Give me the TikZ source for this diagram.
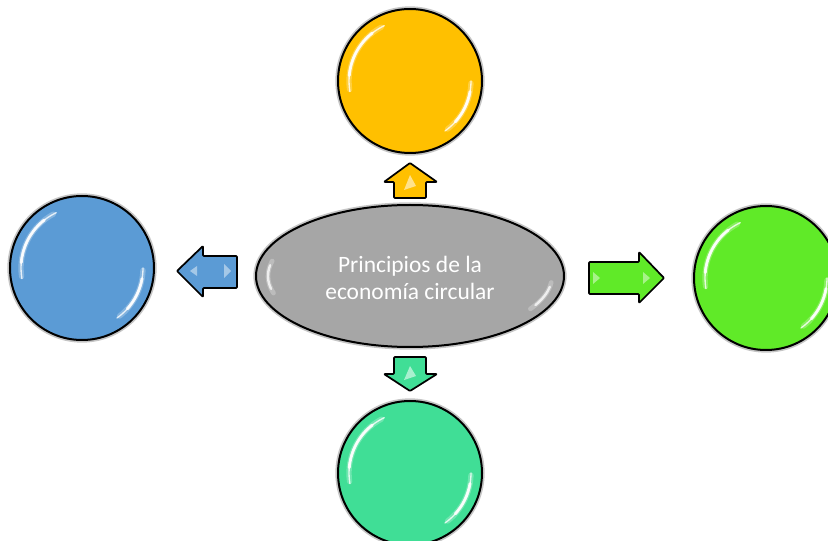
\documentclass[tikz,border=0pt]{standalone}
\usepackage{fontspec}
\setmainfont{Carlito}
\usetikzlibrary{shapes.geometric}
\definecolor{cOrange}{RGB}{255,192,0}
\definecolor{cBlue}{RGB}{91,155,213}
\definecolor{cGreen}{RGB}{96,234,40}
\definecolor{cTeal}{RGB}{64,222,150}
\definecolor{cGray}{RGB}{166,166,166}
\tikzset{
  bub/.style={circle, draw=black, line width=1.5pt, minimum size=108pt, inner sep=0pt},
  halo/.style={draw=black!45, line width=4pt, opacity=0.5},
  hl/.style={draw=white, line cap=round},
  arr/.style={draw=black, line width=1.3pt, line join=round, rounded corners=0.6pt},
  lbl/.style={text=white, font=\fontsize{17.6}{20.3}\selectfont, align=center}
}
\newcommand{\glossy}[2]{% node name, radius in px
  \begin{scope}[shift={(#1.center)}, x=0.75pt, y=0.75pt]
    \draw[hl, line width=4pt, opacity=0.25] (118:#2) arc (118:188:#2);
    \draw[hl, line width=1pt, opacity=0.8] (115:#2) arc (115:190:#2);
    \draw[hl, line width=2.2pt, opacity=0.9] (128:#2) arc (128:175:#2);
    \draw[hl, line width=4pt, opacity=0.25] (-2:#2) arc (-2:-52:#2);
    \draw[hl, line width=1pt, opacity=0.8] (0:#2) arc (0:-55:#2);
    \draw[hl, line width=2.2pt, opacity=0.9] (-10:#2) arc (-10:-42:#2);
  \end{scope}}
\begin{document}
\begin{tikzpicture}[x=0.75pt,y=-0.75pt]
\useasboundingbox (0,0) rectangle (828,541);
% soft halos
\draw[halo] (410,81) circle (72);
\draw[halo] (82,268) circle (72);
\draw[halo] (766,278) circle (72);
\draw[halo] (410,473) circle (72);
\draw[halo] (410,276) ellipse (154 and 71);
% circles
\node[bub, fill=cOrange] (top) at (410,81) {};
\node[bub, fill=cBlue] (left) at (82,268) {};
\node[bub, fill=cGreen] (right) at (766,278) {};
\node[bub, fill=cTeal] (bottom) at (410,473) {};
\glossy{top}{61}
\glossy{left}{61}
\glossy{right}{61}
\glossy{bottom}{61}
% central ellipse
\node[ellipse, draw=black, line width=1.5pt, fill=cGray, minimum width=231pt, minimum height=106.5pt, inner sep=0pt] (center) at (410,276) {};
\begin{scope}[shift={(center.center)}, x=0.75pt, y=0.75pt]
  \draw[hl, line width=3.5pt, opacity=0.25] (166:142 and 62) arc (166:196:142 and 62);
  \draw[hl, line width=1.8pt, opacity=0.75] (170:142 and 62) arc (170:192:142 and 62);
  \draw[hl, line width=3.5pt, opacity=0.25] (-6:142 and 62) arc (-6:-32:142 and 62);
  \draw[hl, line width=1.8pt, opacity=0.75] (-10:142 and 62) arc (-10:-28:142 and 62);
\end{scope}
\node[lbl] (title) at (410,278) {Principios de la\\economía circular};
% arrows
\draw[arr, fill=cOrange] (410,163) -- (437,182) -- (426,182) -- (426,198) -- (394,198) -- (394,182) -- (384,182) -- cycle;
\draw[arr, fill=cTeal] (410,391) -- (437,374) -- (426,374) -- (426,357) -- (394,357) -- (394,374) -- (384,374) -- cycle;
\draw[arr, fill=cBlue] (177,271) -- (203,246) -- (203,256) -- (237,256) -- (237,288) -- (203,288) -- (203,297) -- cycle;
\draw[arr, fill=cGreen] (664,278) -- (639,252) -- (639,262) -- (589,262) -- (589,294) -- (639,294) -- (639,303) -- cycle;
% small arrow highlights
\fill[white, opacity=0.55] (410,175) -- (416,186) -- (404,190) -- cycle;
\fill[white, opacity=0.55] (410,366) -- (416,376) -- (404,380) -- cycle;
\fill[white, opacity=0.45] (190,271) -- (197,266) -- (197,276) -- cycle;
\fill[white, opacity=0.45] (231,271) -- (224,264) -- (224,278) -- cycle;
\fill[white, opacity=0.45] (600,278) -- (593,272) -- (593,284) -- cycle;
\fill[white, opacity=0.45] (650,278) -- (643,272) -- (643,284) -- cycle;
\end{tikzpicture}
\end{document}
